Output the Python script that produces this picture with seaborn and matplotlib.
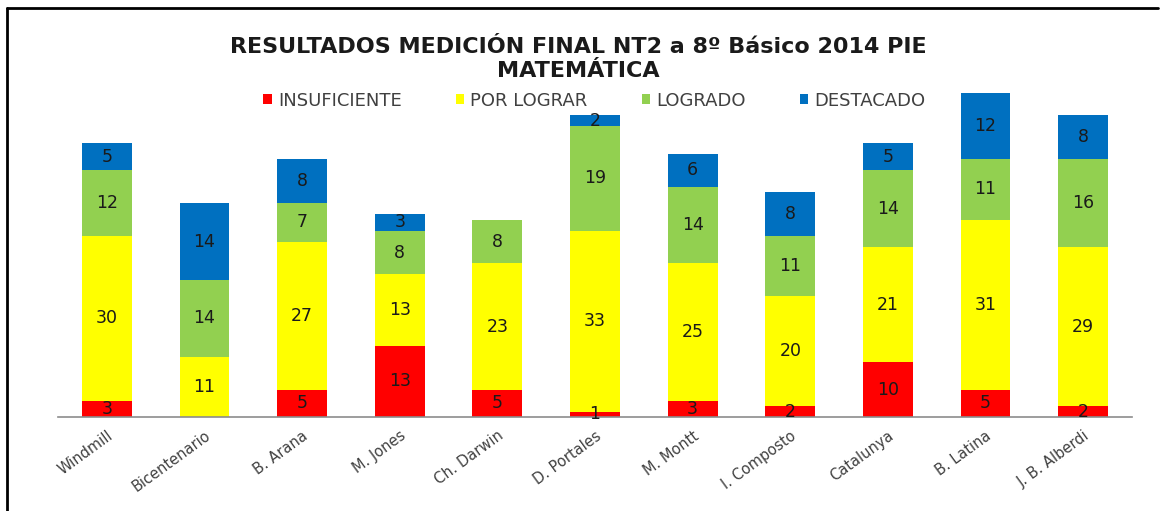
import pandas as pd
import matplotlib.pyplot as plt
import seaborn as sns
from matplotlib.lines import Line2D
from matplotlib.patches import Patch

escuelas = ['Windmill', 'Bicentenario', 'B. Arana', 'M. Jones', 'Ch. Darwin', 'D. Portales',
            'M. Montt', 'I. Composto', 'Catalunya', 'B. Latina', 'J. B. Alberdi']
insuficiente = [3, 0, 5, 13, 5, 1, 3, 2, 10, 5, 2]
por_lograr = [30, 11, 27, 13, 23, 33, 25, 20, 21, 31, 29]
logrado = [12, 14, 7, 8, 8, 19, 14, 11, 14, 11, 16]
destacado = [5, 14, 8, 3, 0, 2, 6, 8, 5, 12, 8]

niveles = ['INSUFICIENTE', 'POR LOGRAR', 'LOGRADO', 'DESTACADO']
colores = ['#FF0000', '#FFFF00', '#92D050', '#0070C0']

df = pd.DataFrame({'Escuela': escuelas, 'INSUFICIENTE': insuficiente, 'POR LOGRAR': por_lograr,
                   'LOGRADO': logrado, 'DESTACADO': destacado})

sns.set_style('white')
plt.rcParams['font.family'] = ['DejaVu Sans']

fig = plt.figure(figsize=(11.61, 5.11), dpi=100)
ax = fig.add_axes([58 / 1161, 94 / 511, (1132 - 58) / 1161, (417 - 88) / 511])

# stacked bars: draw cumulative totals from the top down
acumulado = df[niveles].cumsum(axis=1)
for nivel, color in reversed(list(zip(niveles, colores))):
    sns.barplot(x=df['Escuela'], y=acumulado[nivel], color=color, width=0.51,
                saturation=1, ax=ax, linewidth=0)

base = [0] * len(escuelas)
for nivel in niveles:
    for i, v in enumerate(df[nivel]):
        if v > 0:
            ax.text(i, base[i] + v / 2, str(v), ha='center', va='center',
                    fontsize=12.5, color='#1a1a1a')
        base[i] += v

ax.set_xlim(-0.5, 10.5)
ax.set_ylim(0, 60)
ax.set_xlabel('')
ax.set_ylabel('')
ax.set_yticks([])
for s in ['top', 'right', 'left']:
    ax.spines[s].set_visible(False)
ax.spines['bottom'].set_color('#8c8c8c')
ax.spines['bottom'].set_linewidth(1.2)
ax.tick_params(axis='x', length=0, pad=8)
plt.setp(ax.get_xticklabels(), rotation=36, ha='right', rotation_mode='anchor',
         fontsize=10.5, color='#404040')

fig.text(0.498, 0.908, 'RESULTADOS MEDICIÓN FINAL NT2 a 8º Básico 2014 PIE',
         ha='center', va='center', fontsize=16, fontweight='bold', color='#1a1a1a')
fig.text(0.498, 0.862, 'MATEMÁTICA', ha='center', va='center', fontsize=16,
         fontweight='bold', color='#1a1a1a')

handles = [Patch(facecolor=c, edgecolor='none') for c in colores]
fig.legend(handles, niveles, loc='center', bbox_to_anchor=(0.512, 0.803), ncol=4,
           frameon=False, fontsize=13, handlelength=0.45, handleheight=0.45,
           handletextpad=0.35, columnspacing=3.0, labelcolor='#404040')

# black frame at the top and left of the picture
fig.add_artist(Line2D([7 / 1161, 7 / 1161], [0, 1 - 8 / 511], color='black', lw=2,
                      transform=fig.transFigure))
fig.add_artist(Line2D([7 / 1161, 1158 / 1161], [1 - 8 / 511, 1 - 8 / 511], color='black',
                      lw=2, transform=fig.transFigure))

fig.savefig('out.png', dpi=100)
